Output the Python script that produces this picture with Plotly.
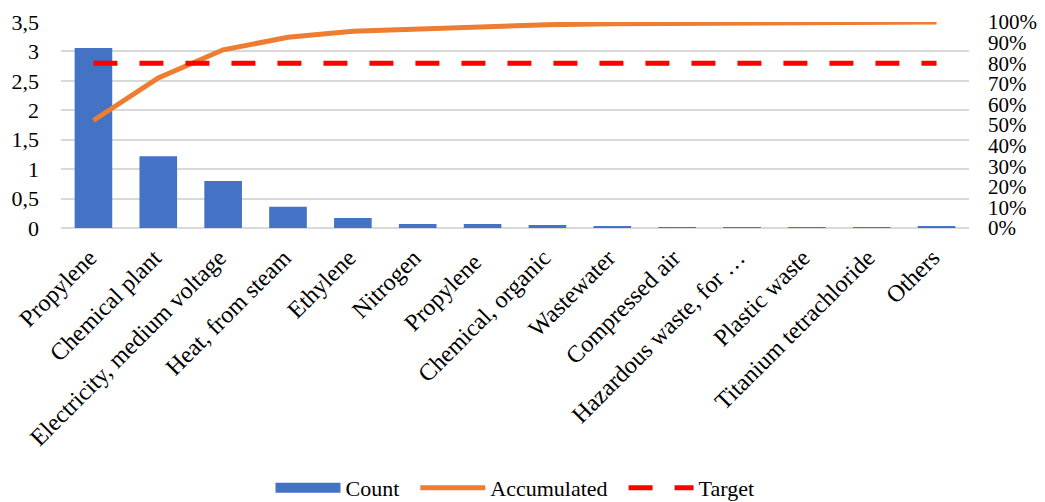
import plotly.graph_objects as go

categories = ["Propylene", "Chemical plant", "Electricity, medium voltage", "Heat, from steam",
              "Ethylene", "Nitrogen", "Propylene ", "Chemical, organic", "Wastewater",
              "Compressed air", "Hazardous waste, for …", "Plastic waste",
              "Titanium tetrachloride", "Others"]
count = [3.06, 1.22, 0.80, 0.36, 0.17, 0.07, 0.07, 0.05, 0.03, 0.01, 0.01, 0.005, 0.005, 0.03]
accumulated = [0.522, 0.728, 0.865, 0.926, 0.955, 0.967, 0.979, 0.987, 0.992, 0.994, 0.996, 0.997, 0.998, 1.0]
target = [0.8] * len(categories)

FONT = "Liberation Serif"
PAD = "\u00a0\u00a0"

fig = go.Figure()
fig.add_trace(go.Bar(x=categories, y=count, name="Count", showlegend=False,
                     marker=dict(color="#4472C4", line=dict(width=0))))
# legend entry for Count drawn as a wide bar-coloured swatch
fig.add_trace(go.Scatter(x=[None], y=[None], name="Count" + PAD, mode="lines",
                         line=dict(color="#4472C4", width=10)))
fig.add_trace(go.Scatter(x=categories, y=accumulated, name="Accumulated" + PAD, yaxis="y2",
                         mode="lines", line=dict(color="#ED7D31", width=5)))
fig.add_trace(go.Scatter(x=categories, y=target, name="Target", yaxis="y2",
                         mode="lines", line=dict(color="#FF0000", width=5, dash="24px,22px")))

fig.update_layout(
    width=1045, height=502,
    margin=dict(l=61, r=76, t=22, b=274, autoexpand=False),
    paper_bgcolor="white", plot_bgcolor="white",
    separators=",.",
    font=dict(family=FONT, size=22, color="black"),
    bargap=0.42,
    showlegend=True,
    legend=dict(orientation="h", x=0.5, xanchor="center", y=-1.262, yanchor="middle",
                font=dict(family=FONT, size=22, color="black"), itemwidth=65,
                traceorder="normal"),
    xaxis=dict(tickangle=-45, showgrid=False, showline=False, ticks="", zeroline=False,
               automargin=False, tickfont=dict(family=FONT, size=24, color="black"),
               ticklabelstandoff=10, ticklabelshift=-4),
    yaxis=dict(range=[0, 3.5], dtick=0.5, showgrid=True, gridcolor="#D9D9D9", gridwidth=1.5,
               zeroline=True, zerolinecolor="#D9D9D9", zerolinewidth=1.5, ticks="",
               showline=False, automargin=False,
               tickfont=dict(family=FONT, size=22, color="black"), ticklabelstandoff=21),
    yaxis2=dict(range=[0, 1], dtick=0.1, tickformat=".0%", overlaying="y", side="right",
                showgrid=False, zeroline=False, ticks="", showline=False, automargin=False,
                tickfont=dict(family=FONT, size=21, color="black"), ticklabelstandoff=18),
)

fig.write_html("out.html")
